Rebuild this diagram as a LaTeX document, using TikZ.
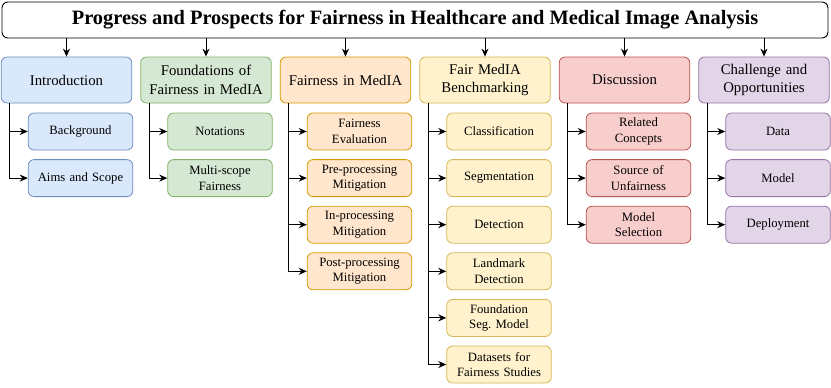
\documentclass[tikz,border=0pt]{standalone}
\usepackage{fontspec}
\setmainfont{Liberation Serif}
\usetikzlibrary{arrows.meta,calc}
\definecolor{bluefill}{HTML}{DAE8FC}
\definecolor{blueline}{HTML}{6C8EBF}
\definecolor{greenfill}{HTML}{D5E8D4}
\definecolor{greenline}{HTML}{82B366}
\definecolor{orangefill}{HTML}{FFE6CC}
\definecolor{orangeline}{HTML}{D79B00}
\definecolor{yellowfill}{HTML}{FFF2CC}
\definecolor{yellowline}{HTML}{D6B656}
\definecolor{redfill}{HTML}{F8CECC}
\definecolor{redline}{HTML}{B85450}
\definecolor{purplefill}{HTML}{E1D5E7}
\definecolor{purpleline}{HTML}{9673A6}

\tikzset{
topic/.style={
draw=#1line,
fill=#1fill,
line width=0.8pt,
rounded corners=6pt,
minimum width=130pt,
minimum height=46pt,
text width=124pt,
align=center,
font=\fontsize{14.8}{18.3}\selectfont},
subtopic/.style={
draw=#1line,
fill=#1fill,
line width=0.8pt,
rounded corners=6pt,
minimum width=102pt,
minimum height=37pt,
text width=98pt,
align=center,
font=\fontsize{12.7}{15.3}\selectfont},
link/.style={-{Stealth[length=8pt,width=7pt]}, line width=1pt}
}

\begin{document}
\begin{tikzpicture}[x=1pt,y=-1pt]
\useasboundingbox (0,0) rectangle (831,388);

% ================= TITLE =================
\node[
draw=black,
fill=white,
line width=0.9pt,
rounded corners=6pt,
minimum width=826pt,
minimum height=36pt,
font=\fontsize{20.4}{24}\selectfont\bfseries
] (title) at (415,20)
{Progress and Prospects for Fairness in Healthcare and Medical Image Analysis};

% ================= INTRODUCTION =================
\node[topic=blue] (intro) at (66.5,80) {Introduction};
\node[subtopic=blue] (background) at (80.5,131.5) {Background};
\node[subtopic=blue] (aims) at (80.5,178.1) {Aims and Scope};

% ================= FOUNDATIONS =================
\node[topic=green] (found) at (206,80) {Foundations of\\Fairness in MedIA};
\node[subtopic=green] (notations) at (220,131.5) {Notations};
\node[subtopic=green] (multiscope) at (220,178.1) {Multi-scope\\Fairness};

% ================= FAIRNESS IN MEDIA =================
\node[topic=orange] (fairmedia) at (345.5,80) {Fairness in MedIA};
\node[subtopic=orange] (evaluation) at (359.5,131.5) {Fairness\\Evaluation};
\node[subtopic=orange] (preproc) at (359.5,178.1) {Pre-processing\\Mitigation};
\node[subtopic=orange] (inproc) at (359.5,224.7) {In-processing\\Mitigation};
\node[subtopic=orange] (postproc) at (359.5,271.3) {Post-processing\\Mitigation};

% ================= BENCHMARKING =================
\node[topic=yellow] (bench) at (485,80) {Fair MedIA\\Benchmarking};
\node[subtopic=yellow] (classif) at (499,131.5) {Classification};
\node[subtopic=yellow] (segment) at (499,178.1) {Segmentation};
\node[subtopic=yellow] (detect) at (499,224.7) {Detection};
\node[subtopic=yellow] (landmark) at (499,271.3) {Landmark\\Detection};
\node[subtopic=yellow] (segmodel) at (499,317.9) {Foundation\\Seg.~Model};
\node[subtopic=yellow] (datasets) at (499,364.5) {Datasets for\\Fairness Studies};

% ================= DISCUSSION =================
\node[topic=red] (discuss) at (624.5,80) {Discussion};
\node[subtopic=red] (related) at (638.5,131.5) {Related\\Concepts};
\node[subtopic=red] (source) at (638.5,178.1) {Source of\\Unfairness};
\node[subtopic=red] (selection) at (638.5,224.7) {Model\\Selection};

% ================= CHALLENGES =================
\node[topic=purple] (challenge) at (764,80) {Challenge and\\Opportunities};
\node[subtopic=purple] (data) at (778,131.5) {Data};
\node[subtopic=purple] (model) at (778,178.1) {Model};
\node[subtopic=purple] (deploy) at (778,224.7) {Deployment};

% ================= CONNECTORS =================
\foreach \col in {intro,found,fairmedia,bench,discuss,challenge}
  \draw[link] (title.south -| \col.north) -- (\col.north);

\foreach \col/\sub in {intro/background,intro/aims,
  found/notations,found/multiscope,
  fairmedia/evaluation,fairmedia/preproc,fairmedia/inproc,fairmedia/postproc,
  bench/classif,bench/segment,bench/detect,bench/landmark,bench/segmodel,bench/datasets,
  discuss/related,discuss/source,discuss/selection,
  challenge/data,challenge/model,challenge/deploy}
  \draw[link] ($(\col.south west)+(9,0)$) |- (\sub.west);

\end{tikzpicture}
\end{document}
